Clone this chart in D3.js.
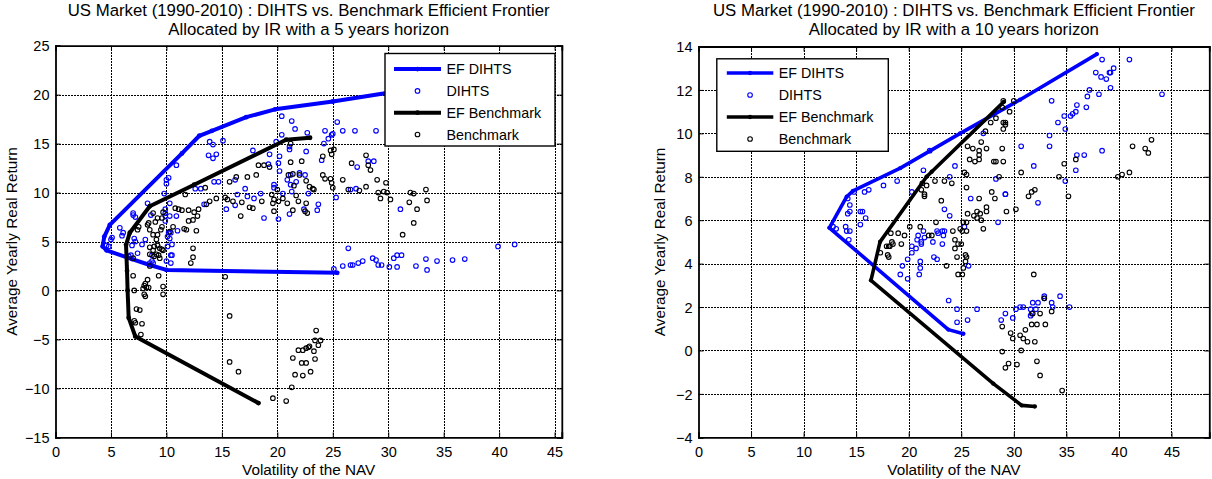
<!DOCTYPE html>
<html><head><meta charset="utf-8">
<script src="https://cdn.jsdelivr.net/npm/d3@7"></script>
<style>
body{margin:0;background:#fff}
svg{display:block}
text{font-family:"Liberation Sans",Arial,sans-serif;fill:#000}
</style>
</head><body>
<svg id="chart" width="1212" height="479"></svg>
<script>
// ---------------- DATA ----------------
const xTicks = [0,5,10,15,20,25,30,35,40,45];
const leftYTicks = [-15,-10,-5,0,5,10,15,20,25];
const rightYTicks = [-4,-2,0,2,4,6,8,10,12,14];
const leftTitle = ["US Market (1990-2010) : DIHTS vs. Benchmark Efficient Frontier","Allocated by IR with a 5 years horizon"];
const rightTitle = ["US Market (1990-2010) : DIHTS vs. Benchmark Efficient Frontier","Allocated by IR with a 10 years horizon"];
const xLabel = "Volatility of the NAV";
const yLabel = "Average Yearly Real Return";
const legendLabels = ["EF DIHTS","DIHTS","EF Benchmark","Benchmark"];

// Left panel (5 years horizon)
const leftEfDihts = [[38,21.3],[30,20.2],[25,19.3],[19.8,18.5],[17.2,17.7],[14.1,16.3],[12.97,15.8],[11.4,14],[4.9,6.7],[4.4,5.5],[4.25,4.5],[4.6,4.1],[6.9,3.2],[8.5,2.6],[10.0,2.1],[25.4,1.8]];
const leftEfBench = [[22.95,15.6],[20.8,15.4],[12.5,10.8],[8.5,8.6],[6.7,5.9],[6.36,4.66],[6.45,2],[6.5,0],[6.6,-2.8],[7.2,-4.7],[18.3,-11.5]];
const leftDihts = [[20.4,17.8],[21.3,17.3],[21.6,16.5],[20.4,15.9],[22.7,16.1],[19.9,15.2],[24.2,15.0],[24.3,16.3],[24.6,15.5],[24.9,15.9],[25.0,16.0],[25.4,17.2],[25.9,16.3],[27.0,16.3],[28.9,16.3],[21.1,14.7],[21.1,14.4],[22.6,14.2],[19.3,13.9],[20.2,13.7],[20.1,13.0],[19.2,12.9],[13.9,15.2],[14.2,14.9],[15.1,15.3],[13.8,13.8],[14.5,13.9],[14.2,13.5],[17.8,14.3],[10.9,12.8],[24.0,13.3],[27.2,12.6],[28.2,13.2],[28.7,13.2],[20.2,12.2],[22.0,12.0],[21.2,11.8],[20.9,11.3],[21.7,11.1],[22.5,11.8],[21.2,10.8],[19.7,10.8],[19.7,10.5],[16.2,11.3],[14.3,11.1],[14.7,11.1],[17.1,10.4],[20.5,9.9],[21.3,10.1],[22.8,9.9],[27.1,10.4],[26.6,10.3],[25.3,9.5],[16.4,9.8],[17.3,9.6],[18.5,9.9],[17.9,9.4],[16.2,8.7],[15.4,8.3],[13.4,8.8],[13.1,10.4],[12.6,10.4],[21.1,7.8],[20.1,7.3],[18.8,7.4],[23.7,8.8],[23.6,8.2],[22.4,8.3],[31.1,8.3],[10.0,11.3],[10.2,11.5],[10.0,10.9],[9.8,9.9],[8.3,8.9],[7.0,7.9],[7.0,7.7],[6.0,5.6],[8.6,7.7],[9.9,8.3],[9.9,7.9],[9.9,7.6],[10.3,8.9],[10.3,7.6],[10.9,7.6],[9.9,7.1],[11.0,6.1],[10.2,5.9],[10.1,5.5],[10.3,5.3],[10.4,5.9],[10.5,4.7],[10.5,3.6],[10.4,3.6],[10.1,4.5],[10.0,3.0],[10.4,2.8],[7.1,5.3],[7.2,5.0],[6.9,4.6],[8.1,5.2],[7.8,4.7],[7.4,3.8],[6.8,3.6],[8.7,3.6],[8.7,3.0],[8.8,2.8],[5.0,5.2],[4.8,4.5],[4.6,4.6],[5.1,5.4],[6.6,3.5],[8.5,2.8],[6.1,5.9],[7.2,7.5],[5.8,6.4],[25.1,2.2],[25.9,2.5],[26.4,4.3],[26.6,2.6],[26.8,2.6],[27.3,2.8],[27.7,3.0],[28.6,3.3],[28.9,3.1],[29.1,2.6],[29.4,2.6],[30.1,2.4],[30.5,3.3],[30.8,3.6],[31.2,3.6],[30.8,2.4],[32.5,2.5],[33.4,3.2],[33.5,2.1],[34.4,3.0],[35.8,3.1],[36.9,3.2],[39.9,4.5],[41.4,4.7]];
const leftBench = [[21.2,15.0],[21.2,13.1],[22.2,13.2],[18.3,12.8],[18.8,12.8],[19.3,12.6],[18.1,11.8],[21.0,11.8],[21.4,11.9],[22.0,11.8],[22.6,11.2],[22.9,10.6],[23.2,10.4],[24.1,11.8],[24.3,11.4],[24.8,11.4],[24.9,11.0],[24.8,14.3],[25.1,14.4],[24.9,13.9],[24.1,13.7],[26.7,13.0],[28.0,13.8],[28.2,12.8],[28.4,12.3],[25.9,11.3],[25.0,10.5],[26.4,10.3],[27.4,10.2],[28.0,10.6],[29.0,11.3],[29.8,11.0],[29.1,10.0],[29.6,10.1],[29.9,10.0],[29.3,9.4],[30.2,9.3],[32.0,10.0],[32.3,9.9],[33.4,10.3],[33.5,9.2],[31.9,9.0],[32.6,8.3],[32.3,6.9],[31.3,5.7],[20.0,10.3],[19.5,9.8],[19.7,9.3],[20.5,9.4],[19.6,8.9],[20.1,9.1],[19.7,8.1],[20.9,8.9],[21.9,9.1],[21.4,8.2],[22.5,8.1],[22.7,7.9],[21.5,10.7],[21.7,9.7],[22.6,8.9],[23.3,10.3],[18.6,9.1],[16.8,9.0],[16.7,7.6],[17.5,8.5],[17.8,8.4],[15.5,9.3],[16.0,9.1],[15.3,9.5],[14.5,9.4],[16.3,11.6],[15.7,11.1],[17.3,11.6],[13.5,10.5],[11.7,9.8],[13.9,9.1],[13.6,8.8],[12.9,8.3],[12.0,8.2],[12.5,8.0],[11.4,8.2],[11.1,8.3],[12.8,7.6],[12.4,7.2],[12.0,7.1],[12.7,6.1],[11.6,6.3],[11.8,6.2],[10.8,8.4],[10.6,6.5],[10.3,6.0],[9.7,8.0],[9.6,7.4],[9.2,7.4],[8.8,7.9],[9.0,7.0],[9.6,6.5],[9.5,6.2],[8.5,6.2],[9.2,5.7],[8.8,5.7],[9.1,5.2],[8.3,6.7],[8.4,6.9],[7.5,6.5],[7.4,6.2],[8.5,4.4],[8.9,4.5],[9.2,4.6],[9.4,4.3],[9.6,4.2],[8.8,4.1],[9.1,3.7],[9.3,3.6],[9.4,3.3],[8.5,3.7],[8.9,3.5],[8.5,2.5],[9.3,1.5],[9.7,4.1],[12.4,4.3],[12.4,3.4],[12.2,2.8],[7.0,3.3],[7.0,1.5],[7.1,0.0],[8.3,1.1],[8.1,0.7],[8.0,0.5],[8.2,0.3],[7.9,0.2],[8.4,0.3],[8.0,-0.4],[8.1,-0.6],[9.7,0.4],[9.7,-0.4],[7.3,-1.9],[7.6,-2.0],[7.1,-3.1],[7.2,-3.3],[7.8,-3.4],[7.7,-4.5],[15.7,-2.6],[15.3,1.4],[15.7,-7.3],[16.5,-8.3],[19.6,-11.0],[20.8,-11.3],[21.3,-9.9],[21.6,-8.6],[22.3,-8.7],[21.4,-6.9],[22.2,-7.4],[22.6,-7.4],[23.0,-8.3],[21.9,-6.1],[22.3,-6.1],[22.6,-5.9],[22.8,-5.8],[22.9,-5.7],[23.3,-6.2],[23.4,-7.0],[23.4,-5.1],[23.5,-4.1],[23.7,-5.6],[23.9,-5.1]];

// Right panel (10 years horizon)
const rightEfDihts = [[37.9,13.65],[30.6,11.55],[24.9,10.0],[19.2,8.4],[14.7,7.35],[14.1,7.08],[12.45,5.65],[23.77,0.96],[25.2,0.77]];
const rightEfBench = [[29.07,11.46],[22.19,8.23],[21.7,8.0],[17.27,5.0],[16.41,3.23],[28.05,-1.53],[30.75,-2.53],[32.0,-2.58]];
const rightDihts = [[38.4,13.4],[41.0,13.4],[37.8,12.8],[38.3,12.6],[39.1,12.8],[39.2,12.8],[39.5,13.0],[38.8,12.5],[39.2,12.1],[38.1,11.8],[44.1,11.8],[37.2,12.0],[37.0,11.7],[36.9,11.2],[33.6,11.5],[36.0,11.3],[35.9,11.0],[35.4,10.8],[34.8,10.8],[35.6,10.9],[34.2,10.5],[34.9,10.2],[33.4,9.9],[33.4,9.4],[30.7,9.4],[36.0,9.0],[36.7,9.0],[38.4,9.2],[35.9,8.3],[31.9,8.5],[34.9,7.8],[28.3,7.9],[32.3,6.8],[29.2,7.2],[25.9,7.0],[28.5,5.9],[27.1,10.0],[22.0,9.2],[21.4,8.3],[24.4,8.5],[23.9,8.0],[20.3,7.3],[18.9,7.8],[17.6,7.6],[16.2,7.4],[15.8,7.3],[14.8,7.3],[14.2,7.0],[14.4,6.7],[14.2,6.3],[14.4,6.4],[15.4,6.4],[15.6,6.4],[15.9,6.1],[15.4,5.8],[13.1,5.6],[12.8,5.7],[14.0,5.7],[14.1,5.5],[14.4,5.5],[14.3,5.1],[23.4,6.5],[23.9,6.2],[25.3,5.7],[22.7,5.5],[23.4,5.5],[23.2,5.5],[22.8,5.4],[23.3,5.3],[22.3,5.0],[21.4,5.5],[20.9,5.3],[20.8,5.1],[21.2,5.0],[21.5,5.2],[20.7,4.7],[21.2,4.9],[23.2,4.9],[20.3,4.8],[19.9,4.2],[20.3,4.5],[22.4,4.3],[22.7,4.2],[21.1,4.1],[21.1,3.8],[21.0,3.5],[19.4,3.9],[19.2,3.5],[19.9,3.3],[25.7,3.9],[23.8,2.3],[24.6,1.9],[24.6,1.3],[25.6,1.4],[26.5,1.9],[28.8,1.4],[29.2,1.7],[29.9,1.5],[30.2,1.9],[30.6,2.0],[30.9,2.0],[31.6,1.9],[31.8,2.2],[32.1,1.9],[32.3,2.2],[31.7,1.7],[31.6,1.6],[33.6,2.2],[33.7,2.0],[34.4,2.5],[35.3,2.0],[32.9,2.4],[32.9,2.5],[29.2,7.2]];
const rightBench = [[29.0,11.5],[30.0,11.5],[29.6,11.0],[28.9,11.2],[28.3,10.7],[29.0,10.5],[29.2,10.5],[29.2,10.4],[27.8,10.5],[29.0,10.2],[27.3,10.1],[26.9,9.6],[25.6,9.4],[26.1,9.3],[26.7,9.2],[27.4,9.3],[28.9,9.3],[26.7,9.0],[25.8,8.8],[26.7,8.8],[26.3,8.7],[28.1,8.7],[28.3,8.7],[29.0,8.7],[28.6,8.0],[25.3,8.2],[25.5,8.1],[22.5,7.8],[23.4,7.8],[24.1,7.7],[21.3,7.7],[21.7,7.6],[21.2,7.4],[21.5,7.2],[21.5,7.1],[25.5,7.5],[27.9,7.3],[28.2,7.0],[26.7,7.0],[23.1,6.9],[27.4,6.6],[27.4,6.4],[29.3,6.4],[30.2,6.5],[30.7,8.2],[31.4,7.1],[31.7,7.3],[32.0,7.4],[34.3,8.0],[34.8,8.6],[35.2,7.1],[35.9,8.8],[39.9,8.0],[40.3,8.1],[41.0,8.2],[41.3,9.4],[42.5,9.3],[42.8,9.1],[43.1,9.7],[25.6,6.3],[26.2,6.2],[26.5,6.4],[26.8,6.3],[26.9,6.0],[26.5,6.1],[27.1,5.6],[25.5,5.9],[25.2,5.9],[25.1,5.5],[25.5,5.5],[24.9,5.6],[24.2,5.5],[22.6,5.9],[21.9,5.3],[22.2,5.3],[21.1,5.7],[20.1,5.7],[19.6,5.3],[19.0,5.4],[18.3,5.4],[18.4,5.0],[18.5,4.9],[18.2,4.8],[17.9,4.8],[18.0,4.4],[18.1,4.3],[17.3,4.5],[18.1,4.8],[19.3,4.9],[24.4,5.1],[24.7,4.9],[25.0,4.9],[24.4,4.7],[24.6,4.3],[25.4,4.4],[25.5,4.3],[25.4,4.1],[25.2,3.8],[24.7,3.5],[25.1,3.5],[23.6,3.9],[31.9,3.5],[32.9,2.4],[33.6,1.8],[32.5,1.7],[31.8,1.7],[31.7,1.2],[33.0,1.2],[32.2,1.2],[28.9,1.1],[31.1,0.95],[29.7,0.8],[29.9,0.55],[30.6,0.7],[30.9,0.55],[30.7,0.0],[31.3,0.4],[32.0,0.4],[28.9,-0.05],[29.5,-0.6],[29.2,-0.8],[30.3,-0.65],[32.2,-0.5],[32.5,-1.15],[34.6,-1.85]];

// ---------------- DRAW ----------------
const svg = d3.select("#chart");
const BLUE = "#0000ff", BLACK = "#000000";
const FONT = 14.5;

function panel(p) {
  const x = d3.scaleLinear().domain(p.xDomain).range([p.left, p.right]);
  const y = d3.scaleLinear().domain(p.yDomain).range([p.bottom, p.top]);
  const g = svg.append("g");
  const clipId = "clip" + p.id;
  svg.append("clipPath").attr("id", clipId).append("rect")
    .attr("x", p.left).attr("y", p.top).attr("width", p.right - p.left).attr("height", p.bottom - p.top);

  // grid (dotted)
  const grid = g.append("g").attr("stroke", "#000").attr("stroke-width", 1)
    .attr("stroke-dasharray", "2,1").attr("shape-rendering", "crispEdges");
  grid.selectAll("line.gx").data(xTicks.filter(t => t > p.xDomain[0])).join("line")
    .attr("x1", d => Math.round(x(d)) + 0.5).attr("x2", d => Math.round(x(d)) + 0.5).attr("y1", p.top).attr("y2", p.bottom);
  grid.selectAll("line.gy").data(p.yTicks.filter(t => t > p.yDomain[0] && t < p.yDomain[1])).join("line")
    .attr("x1", p.left).attr("x2", p.right).attr("y1", d => Math.round(y(d)) + 0.5).attr("y2", d => Math.round(y(d)) + 0.5);

  // axes
  const axB = g.append("g").attr("transform", `translate(0,${p.bottom})`)
    .call(d3.axisBottom(x).tickValues(xTicks).tickSize(-5).tickPadding(9).tickFormat(d3.format("d")));
  const axL = g.append("g").attr("transform", `translate(${p.left},0)`)
    .call(d3.axisLeft(y).tickValues(p.yTicks).tickSize(-5).tickPadding(6).tickFormat(d3.format("d")));
  const axT = g.append("g").attr("transform", `translate(0,${p.top})`)
    .call(d3.axisTop(x).tickValues(xTicks).tickSize(-5).tickFormat(""));
  const axR = g.append("g").attr("transform", `translate(${p.right},0)`)
    .call(d3.axisRight(y).tickValues(p.yTicks).tickSize(-5).tickFormat(""));
  [axB, axL, axT, axR].forEach(a => {
    a.attr("font-size", null).attr("font-family", null);
    a.select(".domain").attr("stroke", "#000").attr("stroke-width", 1.8);
    a.selectAll(".tick line").attr("stroke", "#000");
    a.selectAll("text").style("font-size", FONT + "px");
  });
  axB.selectAll(".tick text").attr("dy", "0.72em");
  axL.selectAll(".tick text").attr("dy", "0.36em");

  const plot = g.append("g").attr("clip-path", `url(#${clipId})`);
  const line = d3.line().x(d => x(d[0])).y(d => y(d[1]));

  // EF DIHTS
  plot.append("path").datum(p.efD).attr("d", line).attr("fill", "none")
    .attr("stroke", BLUE).attr("stroke-width", p.lw).attr("stroke-linejoin", "round").attr("stroke-linecap", "round");
  plot.selectAll("circle.vd").data(p.efD).join("circle").attr("cx", d => x(d[0])).attr("cy", d => y(d[1])).attr("r", p.lw * 0.6).attr("fill", BLUE);
  // DIHTS points
  plot.selectAll("circle.pd").data(p.ptD).join("circle").attr("cx", d => x(d[0])).attr("cy", d => y(d[1]))
    .attr("r", 2.3).attr("fill", "none").attr("stroke", BLUE).attr("stroke-width", 1.1);
  // EF Benchmark
  plot.append("path").datum(p.efB).attr("d", line).attr("fill", "none")
    .attr("stroke", BLACK).attr("stroke-width", p.lw).attr("stroke-linejoin", "round").attr("stroke-linecap", "round");
  plot.selectAll("circle.vb").data(p.efB).join("circle").attr("cx", d => x(d[0])).attr("cy", d => y(d[1])).attr("r", p.lw * 0.6).attr("fill", BLACK);
  // Benchmark points
  plot.selectAll("circle.pb").data(p.ptB).join("circle").attr("cx", d => x(d[0])).attr("cy", d => y(d[1]))
    .attr("r", 2.3).attr("fill", "none").attr("stroke", BLACK).attr("stroke-width", 1.1);

  // titles
  const cx = (p.left + p.right) / 2;
  g.selectAll("text.title").data(p.title).join("text")
    .attr("x", cx).attr("y", (d, i) => 16 + i * 18.5).attr("text-anchor", "middle")
    .style("font-size", "16.8px").text(d => d);
  g.append("text").attr("x", cx).attr("y", 475).attr("text-anchor", "middle").style("font-size", "15.3px").text(xLabel);
  g.append("text").attr("transform", `translate(${p.yLabelX},${(p.top + p.bottom) / 2}) rotate(-90)`)
    .attr("text-anchor", "middle").style("font-size", "15.3px").text(yLabel);

  // legend
  const L = p.legend;
  const lg = g.append("g");
  lg.append("rect").attr("x", L.x).attr("y", L.y).attr("width", L.w).attr("height", L.h)
    .attr("fill", "#fff").attr("stroke", "#000").attr("stroke-width", 1.4);
  const styles = [
    {type: "line", color: BLUE}, {type: "pt", color: BLUE},
    {type: "line", color: BLACK}, {type: "pt", color: BLACK}
  ];
  legendLabels.forEach((lab, i) => {
    const yy = L.y + L.row0 + i * L.dy;
    const s = styles[i];
    if (s.type === "line") {
      lg.append("line").attr("x1", L.x + L.l0).attr("x2", L.x + L.l1).attr("y1", yy).attr("y2", yy)
        .attr("stroke", s.color).attr("stroke-width", p.lw);
      lg.append("circle").attr("cx", L.x + (L.l0 + L.l1) / 2).attr("cy", yy).attr("r", p.lw * 0.6).attr("fill", s.color);
    } else {
      lg.append("circle").attr("cx", L.x + (L.l0 + L.l1) / 2).attr("cy", yy).attr("r", 2.3)
        .attr("fill", "none").attr("stroke", s.color).attr("stroke-width", 1.1);
    }
    lg.append("text").attr("x", L.x + L.tx).attr("y", yy).attr("dy", "0.36em").style("font-size", "14.3px").text(lab);
  });
}

panel({
  id: "L", left: 55.5, right: 561.8, top: 45.7, bottom: 437.3,
  xDomain: [0, 45.65], yDomain: [-15, 25], yTicks: leftYTicks, title: leftTitle,
  efD: leftEfDihts, ptD: leftDihts, efB: leftEfBench, ptB: leftBench, lw: 4,
  yLabelX: 16.5,
  legend: {x: 385, y: 53.5, w: 170, h: 92.5, row0: 15.6, dy: 21.8, l0: 9, l1: 56, tx: 61.5}
});
panel({
  id: "R", left: 698.5, right: 1209.3, top: 46.5, bottom: 437.3,
  xDomain: [0, 48.6], yDomain: [-4, 14], yTicks: rightYTicks, title: rightTitle,
  efD: rightEfDihts, ptD: rightDihts, efB: rightEfBench, ptB: rightBench, lw: 3.6,
  yLabelX: 664.5,
  legend: {x: 716.8, y: 58.8, w: 171.5, h: 92.5, row0: 14.2, dy: 22, l0: 10, l1: 56.5, tx: 62}
});
</script>
</body></html>
